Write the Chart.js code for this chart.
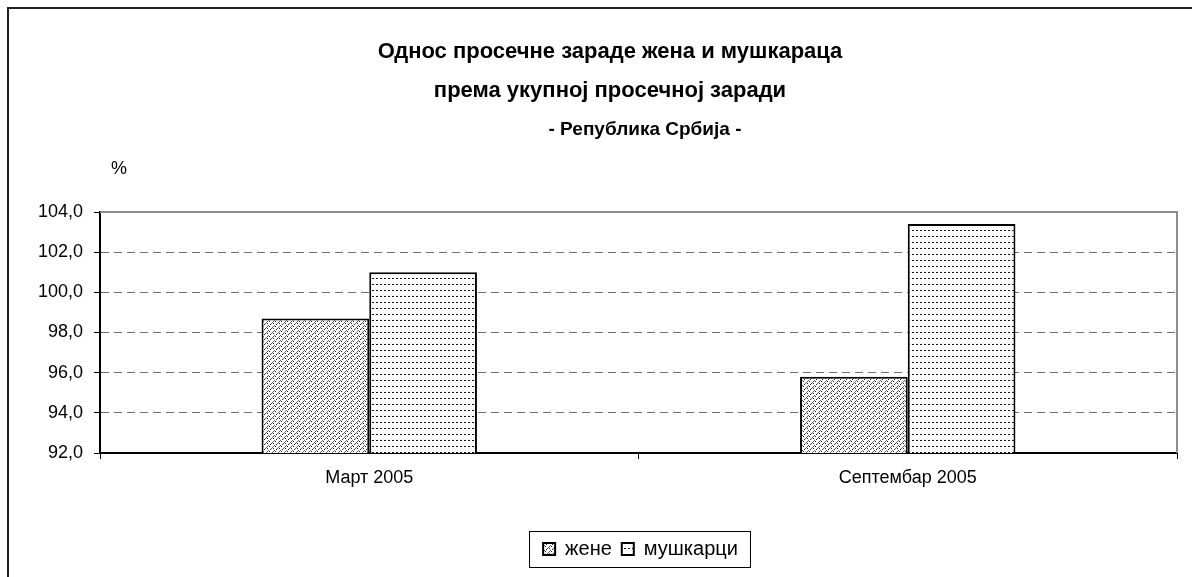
<!DOCTYPE html>
<html>
<head>
<meta charset="utf-8">
<script src="https://cdn.jsdelivr.net/npm/chart.js@4/dist/chart.umd.min.js"></script>
<style>
  html, body { margin: 0; padding: 0; background: #fff; }
  #wrap { width: 1192px; height: 577px; }
</style>
</head>
<body>
<div id="wrap"><canvas id="barChart" width="1192" height="577"></canvas></div>
<script>
const categories = ['Март 2005', 'Септембар 2005']
const zene = [98.7, 95.8]
const muskarci = [101.0, 103.4]
const seriesNames = ['жене', 'мушкарци']
const titleLines = ['Однос просечне зараде жена и мушкараца', 'према укупној просечној заради']
const subtitleText = '- Република Србија -'
const unitLabel = '%'

const FONT = "'Liberation Sans', Arial, sans-serif"

// Patterns:
function makePattern(w, h, draw) {
    const c = document.createElement('canvas')
    c.width = w
    c.height = h
    const g = c.getContext('2d')
    g.fillStyle = '#fff'
    g.fillRect(0, 0, w, h)
    draw(g)
    return document.getElementById('barChart').getContext('2d').createPattern(c, 'repeat')
}

const zenePattern = makePattern(6, 5, g => {
    g.fillStyle = '#666'
    g.fillRect(1, 3, 1, 1)
    g.fillRect(2, 2, 1, 1)
    g.fillRect(3, 1, 1, 1)
    g.fillRect(4, 0, 1, 1)
    g.fillStyle = '#222'
    g.fillRect(3, 3, 1, 1)
    g.fillRect(0, 4, 1, 1)
    g.fillRect(5, 1, 1, 1)
})

const muskPattern = makePattern(4, 6, g => {
    g.fillStyle = '#111'
    g.fillRect(0, 2, 2, 1)
})

// frame, titles, plot border, % label, legend box
const decor = {
    id: 'decor',
    afterLayout(chart) {
        // legend sits right of centre in the original
        chart.legend.left += 52
        chart.legend.right += 52
    },
    beforeDraw(chart) {
        const c = chart.ctx
        c.save()
        c.strokeStyle = '#222'
        c.lineWidth = 2
        c.beginPath()
        c.moveTo(8, 600)
        c.lineTo(8, 8)
        c.lineTo(1200, 8)
        c.stroke()

        c.fillStyle = '#000'
        c.textAlign = 'center'
        c.textBaseline = 'middle'
        c.font = 'bold 22px ' + FONT
        c.fillText(titleLines[0], 610, 52)
        c.fillText(titleLines[1], 610, 91)
        c.font = 'bold 19px ' + FONT
        c.fillText(subtitleText, 645, 130)
        c.restore()
    },
    afterDraw(chart) {
        const c = chart.ctx
        const a = chart.chartArea
        c.save()
        c.strokeStyle = '#8c8c8c'
        c.lineWidth = 2
        c.beginPath()
        c.moveTo(a.left, a.top)
        c.lineTo(a.right, a.top)
        c.lineTo(a.right, a.bottom)
        c.stroke()

        c.fillStyle = '#000'
        c.font = '18px ' + FONT
        c.textAlign = 'center'
        c.textBaseline = 'middle'
        c.fillText(unitLabel, 119, 169)

        const boxes = chart.legend.legendHitBoxes
        if (boxes && boxes.length) {
            let l = Infinity, r = -Infinity, t = Infinity, b = -Infinity
            boxes.forEach(h => {
                l = Math.min(l, h.left); r = Math.max(r, h.left + h.width)
                t = Math.min(t, h.top); b = Math.max(b, h.top + h.height)
            })
            const cy = (t + b) / 2
            c.strokeStyle = '#000'
            c.lineWidth = 1
            c.strokeRect(Math.round(l - 14) + 0.5, Math.round(cy - 18) + 0.5, Math.round(r - l + 26), 36)
        }
        c.restore()
    }
}

const data = {
    labels: categories,
    datasets: [{
        label: seriesNames[0],
        data: zene,
        backgroundColor: zenePattern,
        borderColor: '#000',
        borderWidth: 2,
    }, {
        label: seriesNames[1],
        data: muskarci,
        backgroundColor: muskPattern,
        borderColor: '#000',
        borderWidth: 2,
    }],
}

const config = {
    type: 'bar',
    data: data,
    plugins: [decor],
    options: {
        responsive: false,
        animation: false,
        devicePixelRatio: 1,
        barPercentage: 1,
        categoryPercentage: 0.4,
        layout: { padding: { left: 0, right: 15, top: 212, bottom: 8 } },
        plugins: {
            title: { display: false },
            legend: {
                position: 'bottom',
                labels: {
                    color: '#000',
                    font: { family: FONT, size: 20 },
                    boxWidth: 12,
                    boxHeight: 12,
                    padding: 10,
                },
            },
            tooltip: { enabled: false },
        },
        scales: {
            x: {
                afterFit: s => { s.height = 76 },
                border: { display: true, color: '#000', width: 2 },
                grid: {
                    offset: true,
                    drawOnChartArea: false,
                    drawTicks: true,
                    tickLength: 6,
                    tickColor: '#000',
                    tickWidth: 1,
                },
                ticks: {
                    color: '#000',
                    font: { family: FONT, size: 18 },
                    padding: 8,
                },
            },
            y: {
                min: 92,
                max: 104,
                afterFit: s => { s.width = 100 },
                border: { display: true, color: '#000', width: 2, dash: [8, 5] },
                grid: {
                    color: ctx => (ctx.tick && (ctx.tick.value === 92 || ctx.tick.value === 104)) ? 'rgba(0,0,0,0)' : '#707070',
                    lineWidth: 1,
                    tickBorderDash: [],
                    tickColor: '#000',
                    tickLength: 6,
                    drawTicks: true,
                },
                ticks: {
                    stepSize: 2,
                    color: '#000',
                    padding: 11,
                    font: { family: FONT, size: 18 },
                    callback: v => v.toFixed(1).replace('.', ','),
                },
            },
        },
    },
}

const myChart = new Chart(document.getElementById('barChart').getContext('2d'), config)
</script>
</body>
</html>
